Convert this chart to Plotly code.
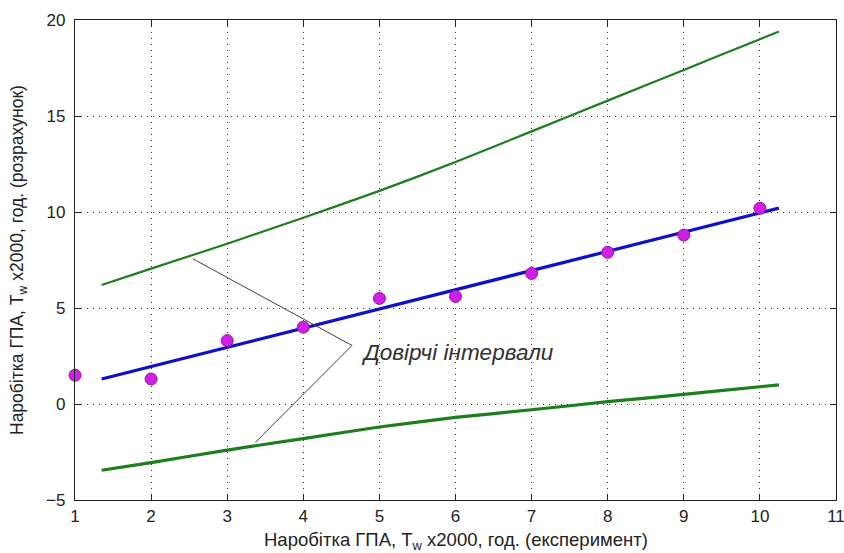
import plotly.graph_objects as go

# Experimental points
x_exp = [1, 2, 3, 4, 5, 6, 7, 8, 9, 10]
y_calc = [1.5, 1.3, 3.3, 4.0, 5.5, 5.6, 6.8, 7.9, 8.8, 10.2]

# Regression line and confidence bounds
x_fit = [1.35, 2, 3, 4, 5, 6, 7, 8, 9, 10, 10.25]
y_fit = [1.3, 1.95, 2.95, 3.95, 4.95, 5.95, 6.95, 7.95, 8.95, 9.95, 10.2]
y_upper = [6.2, 7.05, 8.35, 9.7, 11.1, 12.6, 14.2, 15.8, 17.4, 19.0, 19.4]
y_lower = [-3.45, -3.05, -2.4, -1.8, -1.2, -0.7, -0.3, 0.12, 0.5, 0.9, 1.0]

# Annotation pointer (text anchor and targets on the bounds)
ann_text = "Довірчі інтервали"
ann_origin = (4.64, 3.05)
ann_targets = [(2.55, 7.56), (3.37, -2.0)]

FONT = "Liberation Sans, Arial"

fig = go.Figure()
fig.add_trace(go.Scatter(x=x_fit, y=y_upper, mode="lines",
                         line=dict(color="#1e7d1e", width=2.2, shape="spline", smoothing=0.6),
                         hoverinfo="skip"))
fig.add_trace(go.Scatter(x=x_fit, y=y_lower, mode="lines",
                         line=dict(color="#1e7d1e", width=3.2, shape="spline", smoothing=0.6),
                         hoverinfo="skip"))
fig.add_trace(go.Scatter(x=x_fit, y=y_fit, mode="lines",
                         line=dict(color="#1010c8", width=3.2), hoverinfo="skip"))
fig.add_trace(go.Scatter(x=x_exp, y=y_calc, mode="markers",
                         marker=dict(color="#d21ee6", size=12,
                                     line=dict(color="#8a1a9a", width=1)),
                         cliponaxis=False))

for tx, ty in ann_targets:
    fig.add_shape(type="line", x0=ann_origin[0], y0=ann_origin[1], x1=tx, y1=ty,
                  xref="x", yref="y", line=dict(color="#404040", width=1))

fig.add_annotation(x=ann_origin[0], y=ann_origin[1], xref="x", yref="y",
                   text="<i>" + ann_text + "</i>", showarrow=False,
                   xanchor="left", yanchor="middle", xshift=7, yshift=-7,
                   font=dict(family=FONT, size=22.5, color="#303030"))

fig.add_annotation(x=0.5, y=0, xref="paper", yref="paper",
                   text="Наробітка ГПА, T<sub>w</sub> x2000, год. (експеримент)",
                   showarrow=False, xanchor="center", yanchor="middle", yshift=-41,
                   font=dict(family=FONT, size=18.5, color="#222"))
fig.add_annotation(x=0, y=0.5, xref="paper", yref="paper",
                   text="Наробітка ГПА, T<sub>w</sub> x2000, год. (розрахунок)",
                   showarrow=False, xanchor="center", yanchor="middle", xshift=-57,
                   textangle=-90,
                   font=dict(family=FONT, size=17.5, color="#222"))

axis_common = dict(showline=True, linecolor="#222", linewidth=1.2, mirror="ticks",
                   ticks="inside", ticklen=6, tickcolor="#222",
                   showgrid=True, gridcolor="#333", griddash="1px,5px", gridwidth=1.3,
                   zeroline=False, ticklabeloverflow="allow", automargin=False,
                   tickfont=dict(family=FONT, size=17, color="#222"))

fig.update_xaxes(range=[1, 11], tickmode="linear", tick0=1, dtick=1, **axis_common)
fig.update_yaxes(range=[-5, 20], tickmode="linear", tick0=-5, dtick=5,
                 ticklabelstandoff=5, **axis_common)

fig.update_layout(width=844, height=553, showlegend=False,
                  plot_bgcolor="white", paper_bgcolor="white",
                  margin=dict(l=75, r=8, t=20, b=53))

fig.write_html("out.html")
